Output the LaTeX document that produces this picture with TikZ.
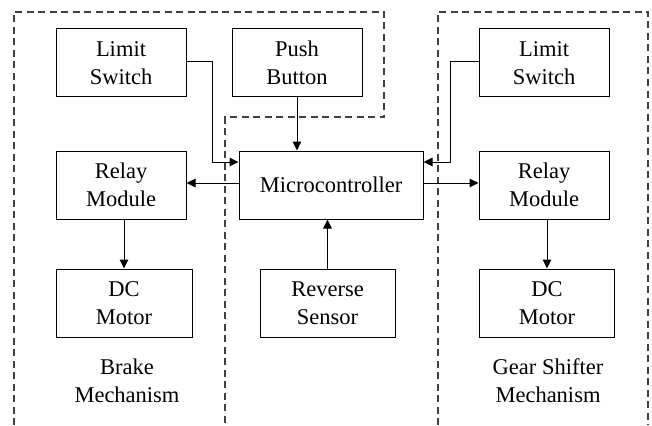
\documentclass[tikz,border=0pt]{standalone}
\usepackage{fontspec}
\setmainfont{Liberation Serif}
\usetikzlibrary{arrows.meta}
\begin{document}
\begin{tikzpicture}[x=1pt,y=-1pt,
  blk/.style={draw,line width=1pt,inner sep=0pt,align=center,font=\fontsize{22.5}{28}\selectfont},
  lbl/.style={inner sep=0pt,align=center,font=\fontsize{22.5}{28}\selectfont},
  grp/.style={draw=black!75,line width=1.1pt,dash pattern=on 7pt off 4.5pt},
  conn/.style={line width=1pt,-{Triangle[length=9pt,width=8.5pt]}}]
\useasboundingbox (0,0) rectangle (652,425);
% dashed groups
\draw[grp] (14,425) -- (14,12) -- (384,12) -- (384,117) -- (225,117) -- (225,425);
\draw[grp] (438,425) -- (438,12) -- (648,12) -- (648,425);
% boxes
\node[blk,minimum width=130pt,minimum height=68pt] (ls1) at (121,63) {Limit\\Switch};
\node[blk,minimum width=130pt,minimum height=68pt] (pb) at (297,63) {Push\\Button};
\node[blk,minimum width=130pt,minimum height=68pt] (ls2) at (544,63) {Limit\\Switch};
\node[blk,minimum width=130pt,minimum height=68pt] (rm1) at (121,185) {Relay\\Module};
\node[blk,minimum width=184pt,minimum height=68pt] (mc) at (331,185) {Microcontroller};
\node[blk,minimum width=130pt,minimum height=68pt] (rm2) at (544,185) {Relay\\Module};
\node[blk,minimum width=136pt,minimum height=68pt] (dc1) at (124,303) {DC\\Motor};
\node[blk,minimum width=135pt,minimum height=68pt] (rs) at (327.5,303) {Reverse\\Sensor};
\node[blk,minimum width=135pt,minimum height=68pt] (dc2) at (547,303) {DC\\Motor};
\node[lbl] (bm) at (127,381) {Brake\\Mechanism};
\node[lbl] (gm) at (548,381) {Gear Shifter\\Mechanism};
% connectors
\draw[conn] (ls1.east |- 0,62) -| (212.5,162) -- (mc.west |- 0,162);
\draw[conn] (ls2.west |- 0,62) -| (450.5,162) -- (mc.east |- 0,162);
\draw[conn] (pb.south) -- (pb.south |- mc.north);
\draw[conn] (mc.west |- 0,183) -- (rm1.east |- 0,183);
\draw[conn] (mc.east |- 0,183) -- (rm2.west |- 0,183);
\draw[conn] (dc1.north |- rm1.south) -- (dc1.north);
\draw[conn] (dc2.north |- rm2.south) -- (dc2.north);
\draw[conn] (rs.north) -- (rs.north |- mc.south);
\end{tikzpicture}
\end{document}
